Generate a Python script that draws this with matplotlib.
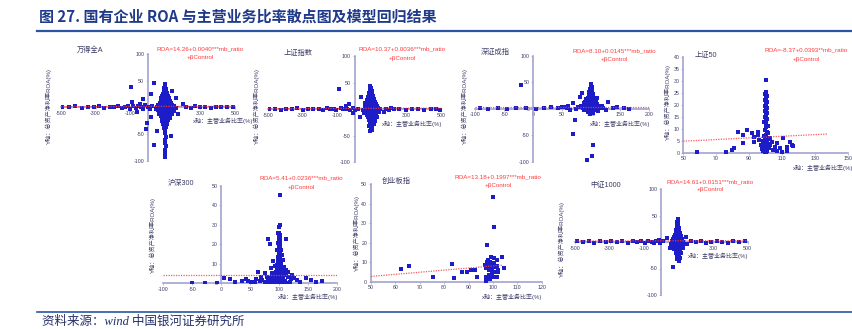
import matplotlib
matplotlib.use("Agg")
import matplotlib.pyplot as plt

plt.rcParams['font.family'] = ['Liberation Sans', 'Noto Sans CJK SC', 'DejaVu Sans']
plt.rcParams['axes.unicode_minus'] = False

# ---------------- data ----------------
TITLE = "图 27. 国有企业 ROA 与主营业务比率散点图及模型回归结果"
SOURCE = "资料来源：wind 中国银河证券研究所"
Y_LABEL = "Y轴：总资产净利率ROA(%)"
X_LABEL = "x轴：主营业务比率(%)"

panel_names = ["万得全A", "上证指数", "深证成指", "上证50", "沪深300", "创业板指", "中证1000"]
equations = [
    "ROA=14.26+0.0040***mb_ratio",
    "ROA=10.37+0.0036***mb_ratio",
    "ROA=8.10+0.0145***mb_ratio",
    "ROA=-8.37+0.0393**mb_ratio",
    "ROA=5.41+0.0236***mb_ratio",
    "ROA=13.18+0.1997***mb_ratio",
    "ROA=14.61+0.0151***mb_ratio",
]
control_text = "+βControl"

# fitted trend lines drawn on each panel: (x0, y0, x1, y1)
trend_lines = [
    (-500, 1.5, 500, 2.5),
    (-500, 1.0, 500, 2.0),
    (-100, 4.0, 200, 4.0),
    (50, 4.8, 138, 7.8),
    (-100, 4.2, 200, 4.2),
    (50, 2.7, 104, 8.5),
    (-500, 2.0, 500, 2.5),
]

wind_a = [
    (98,44),(101,40),(95,37),(104,35),(99,33),(92,30),(106,31),(97,28),(88,26),(110,27),(101,24),(93,22),
    (115,22),(84,21),(106,19),(98,18),(120,17),(78,17),(90,16),(112,14),(102,13),(73,13),(127,12),(85,11),
    (96,10),(108,9),(67,9),(118,8),(133,8),(80,7),(92,6),(104,5),(60,5),(140,5),(125,4),(72,3),(114,3),
    (86,2),(98,1),(150,2),(52,1),(132,0),(66,-1),(108,-1),(160,-1),(78,-2),(94,-3),(120,-3),(45,-2),
    (142,-4),(58,-5),(102,-5),(86,-6),(128,-6),(70,-8),(112,-8),(150,-7),(96,-9),(80,-11),(122,-11),
    (64,-12),(104,-13),(136,-13),(90,-15),(74,-16),(116,-16),(100,-18),(84,-20),(126,-19),(108,-21),
    (92,-23),(118,-24),(80,-25),(100,-27),(110,-30),(88,-31),(98,-34),(106,-37),(94,-39),(101,-42),
    (96,20),(104,16),(90,12),(100,8),(110,12),(86,8),(94,4),(106,2),(100,-2),(90,-1),(112,0),(80,0),
    (120,2),(96,-6),(108,-4),(84,-4),(98,-12),(104,-8),(92,-10),(100,14),(96,24),(102,30),(98,38),
    (94,-20),(104,-24),(98,-30),(76,5),(124,-2),(70,-3),(130,3),(88,18),(114,8),(100,3),(102,-15),
    (95,-25),(110,-12),(82,10),(118,-14),(100,27),(92,14),(108,6),(88,-8),(112,-18),(97,-17),
    (99,-48),(102,-55),(97,-60),(100,-66),(103,-72),(98,-79),(100,-86),(99,-93),
    (-99,38),(36,46),(36,-70),(130,-54),(-13,-40),(-90,11),(-46,7),(17,-18),(-4,-29),(50,-44),(160,18),
    (175,-12),(200,6),(-30,15),(-60,-8),(20,25),(140,30),
    (-490,1),(-450,0),(-420,2),(-380,-1),(-345,1),(-310,0),(-280,2),(-250,-1),(-220,1),(-195,0),
    (-170,2),(-150,-1),(-130,1),(-115,3),(-100,-2),(-85,2),(-70,-1),(-55,3),(-40,0),(-25,-3),(-15,4),
    (0,1),(10,-2),(25,3),(220,1),(245,-1),(270,2),(300,0),(330,1),(360,-1),(390,1),(420,0),(455,1),(490,0),
]

sse = [
    (92,43),(96,39),(89,36),(99,34),(86,31),(95,30),(102,28),(83,26),(91,25),(106,24),(79,22),(97,21),
    (88,19),(111,19),(75,17),(101,16),(84,15),(118,14),(93,13),(70,12),(108,11),(80,10),(124,10),(96,9),
    (64,8),(88,7),(115,7),(130,6),(75,5),(102,5),(58,4),(92,3),(138,3),(120,2),(68,1),(82,0),(108,0),
    (146,0),(50,-1),(96,-1),(126,-2),(62,-3),(88,-4),(114,-4),(74,-6),(140,-6),(100,-7),(56,-8),(86,-9),
    (122,-9),(70,-11),(108,-12),(94,-13),(130,-14),(80,-15),(114,-17),(98,-19),(86,-21),(120,-22),
    (104,-24),(90,-26),(110,-28),(96,-30),(84,-32),(102,-34),(94,-36),(99,-39),(92,-42),
    (94,18),(100,12),(86,10),(104,8),(92,6),(110,4),(80,4),(96,2),(116,0),(90,-2),(104,-2),(76,0),
    (98,-10),(84,-12),(110,-8),(92,-16),(104,-16),(96,-24),(88,-28),(100,-31),(90,22),(98,26),(94,33),
    (82,12),(112,14),(72,-5),(128,4),(106,-20),(96,-3),(86,2),(100,20),(108,-5),(94,-7),(118,-3),
    (-90,37),(39,23),(-33,9),(-50,6),(-10,-8),(30,-15),(170,-5),(210,3),(60,12),
    (-495,0),(-460,1),(-425,-1),(-395,1),(-360,0),(-330,2),(-300,-1),(-270,1),(-240,0),(-205,1),
    (-180,-1),(-160,2),(-140,0),(-120,1),(-105,-2),(-80,2),(-65,0),(-45,1),(-25,-1),(-10,2),(5,-1),
    (20,1),(180,1),(200,-2),(230,0),(260,1),(295,-1),(330,0),(365,1),(400,-1),(440,0),(470,1),(495,-1),
]

szse = [
    (100,47),(99,44),(101,41),(98,38),(100,35),(102,33),(97,31),(100,29),(103,27),(96,25),(99,24),
    (101,22),(95,21),(104,20),(98,19),(92,18),(100,17),(106,16),(96,15),(102,14),(90,13),(99,12),
    (108,12),(94,11),(101,10),(88,10),(104,9),(97,8),(110,8),(92,7),(100,7),(86,6),(106,6),(95,5),
    (112,5),(82,5),(102,4),(90,4),(98,3),(108,3),(78,3),(115,2),(94,2),(104,1),(86,1),(100,0),(120,1),
    (74,0),(110,-1),(92,-1),(97,-2),(105,-3),(88,-3),(100,-5),(112,-4),(95,-7),(103,-8),(98,-10),
    (100,20),(98,14),(102,10),(96,6),(100,3),(93,1),(106,2),(99,-1),(102,18),(97,11),(103,6),(100,12),
    (99,27),(101,33),(98,9),(94,4),(105,11),(91,9),(99,5),(102,-1),(96,0),(84,3),(113,1),
    (-21,45),(69,-48),(103,-69),(102,-89),(93,-97),(73,-22),(81,22),(110,20),(118,5),(137,1),(156,2),
    (165,0),(125,-2),(145,4),(68,10),(60,6),(55,3),(63,-3),(130,12),(85,30),
    (-92,1),(-78,0),(-60,2),(-45,0),(-30,1),(-12,2),(5,0),(18,1),(30,3),(42,1),(50,4),(58,2),
]

sse50 = [
    (58.5,0.3),(75.8,0.1),(79.4,1.1),(80.8,1.8),(83.5,8.5),(86.5,7.4),(86.5,3.9),(88.5,9.4),(91.6,8.1),
    (93.2,6.7),(93.2,4.3),(95.2,8.5),(95.6,7.4),(96.0,5.2),(97.3,3.2),(97.8,1.5),(98.5,0.6),
    (100.2,30.3),(100.6,25.4),(99.8,24.5),(101.1,23.8),(100.3,22.6),(99.6,21.9),(100.9,21.1),
    (100.1,20.2),(99.4,19.3),(100.7,18.8),(100.2,17.9),(99.5,17.2),(101.2,16.5),(100.4,15.8),
    (99.8,14.9),(100.9,14.2),(100.1,13.3),(99.3,12.6),(100.6,11.9),(101.3,11.2),(100.0,10.5),
    (99.6,9.6),(100.8,8.8),(101.5,8.1),(100.2,7.5),(99.1,6.8),(100.5,6.2),(101.8,5.6),(99.8,5.1),
    (100.9,4.5),(99.2,3.9),(100.3,3.3),(101.6,2.8),(99.7,2.2),(100.6,1.6),(98.9,1.1),(101.2,0.7),
    (100.0,0.3),(99.4,0.1),(102.3,1.9),(101.9,3.6),(98.7,2.6),(98.4,4.8),(102.6,6.3),
    (102.7,3.2),(103.8,4.6),(106.8,3.9),(108.8,1.8),(109.8,0.4),(107.2,0.9),(110.8,6.0),(112.9,2.5),
    (114.9,4.6),(115.9,3.1),(117.0,2.9),(112.9,0.7),(104.5,1.2),(105.5,2.2),
]

csi300 = [
    (101,45),(100.5,30),(99.5,29),(100.2,26),(101.2,25),(99.8,24),(100.6,23),(99.2,22),(101,21),
    (100.1,20),(99.5,19),(100.8,18),(98.9,17),(101.4,16.5),(100.2,16),(99.7,15),(101.8,14),(98.6,13.5),
    (100.4,13),(102.5,12),(97.8,11.5),(100.9,11),(99.3,10.5),(103.2,10),(96.5,9.5),(101.5,9),(98.7,8.5),
    (104,8),(95.2,7.5),(100.3,7),(106,6.5),(93.5,6),(99.1,5.8),(102.6,5.5),(108,5),(91,4.8),(97.4,4.5),
    (104.8,4.2),(111,4),(88,3.8),(100.8,3.5),(95.6,3.2),(115,3),(85,2.8),(106.5,2.6),(92,2.4),(98.8,2.2),
    (120,2),(80,1.8),(103.3,1.6),(110,1.4),(89,1.2),(96.4,1),(118,0.9),(76,0.8),(101.2,0.6),(86,0.5),
    (108.4,0.4),(93,0.3),(99.5,0.2),(114,0.2),(82,0.1),(70,1.5),(74.7,5.1),(69,3.4),(63.2,6),(57.5,0.85),
    (46,1.2),(43.1,2.4),(23,0.5),(14.4,2),(4,2.6),(-7.5,0.3),(-28.4,0.3),(-51,0.2),(146.5,2.6),(155,1.7),
    (163.8,0.85),(174,1.2),(80.7,22.5),(83.6,20.1),(112.4,22.5),(89.4,11.6),(106.6,11.9),(93,9),
    (108,8.5),(112,7),(85,8),(88,5.5),(115,6),(122,4),(125,2.5),(130,1.5),(78,3),(66,1),(60,2.2),
    (52,0.6),(35,1.4),(135,0.7),(96,17),(104,14.5),(97,26),(98.5,20.5),(101.8,19.5),(99.1,15.5),
    (102.2,17),(98.2,12.5),(101.9,10.5),(97,7),(103.5,6.8),(95,4),(105.5,3.8),(94,1.8),(107,1.2),
]

chinext = [
    (62.3,6.7),(65.7,7.8),(75.6,2.6),(83.1,9.0),(84.2,2.0),(87.5,5.1),(89.2,4.8),(91.0,6.0),(92.7,6.0),
    (93.6,2.6),(97.4,18.8),(96.8,8.5),(97.0,2.6),(97.2,0.3),(98.1,11.1),(99.1,12.5),(99.5,7.7),
    (99.6,6.0),(99.8,4.3),(99.9,2.6),(100.2,8.9),(100.4,9.6),(100.5,27.8),(100.2,43.5),(100.6,11.9),
    (101.0,7.3),(101.3,5.1),(101.5,11.1),(101.8,8.0),(101.9,6.0),(98.2,6.0),(98.5,8.5),(98.9,10.2),
    (98.2,3.4),(98.7,1.2),(99.1,2.2),(98.0,7.7),(97.3,6.8),(97.6,10.2),(103.6,12.8),(104.6,7.2),
    (101.5,2.6),(102.2,5.1),(98.1,1.7),(97.0,6.8),
]

csi1000 = [
    (95,43),(92,38),(98,35),(90,32),(96,30),(88,27),(100,26),(93,24),(85,22),(104,21),(91,19),(82,18),
    (108,17),(96,16),(78,14),(100,13),(88,12),(112,11),(74,10),(94,9),(116,8),(84,7),(104,6),(70,5),
    (120,5),(92,4),(78,3),(110,2),(64,1),(98,1),(126,0),(86,-1),(72,-2),(114,-2),(58,-3),(100,-4),
    (130,-4),(80,-6),(92,-7),(118,-7),(68,-9),(106,-9),(86,-11),(124,-12),(96,-13),(76,-14),(110,-15),
    (90,-17),(102,-19),(82,-20),(116,-21),(94,-23),(104,-25),(88,-27),(98,-29),(108,-31),(92,-33),
    (100,-36),(94,20),(98,10),(88,6),(102,2),(92,-2),(80,0),(108,-4),(96,-8),(84,-5),(100,-14),
    (92,-22),(100,-26),(94,28),(90,14),(106,12),(96,5),(86,3),(112,-1),(76,6),(120,-9),(98,-18),
    (90,-10),(102,16),(96,-31),(84,12),(110,6),(100,-1),(94,0),
    (65,-48),(-15,3),(-40,-2),(30,8),(150,-3),(170,2),(50,-12),(140,10),
    (-490,1),(-455,0),(-420,1),(-390,-1),(-355,1),(-320,0),(-290,2),(-255,0),(-225,1),(-195,-1),
    (-165,1),(-140,0),(-115,2),(-95,-1),(-75,1),(-55,0),(-30,1),(-10,-1),(10,2),(200,0),(230,1),
    (260,-1),(290,0),(320,1),(350,0),(385,-1),(415,1),(450,0),(485,1),
]

panel_points = [wind_a, sse, szse, sse50, csi300, chinext, csi1000]

# axis ranges and tick values
x_ranges = [(-500, 500), (-500, 500), (-100, 200), (50, 150), (-100, 200), (50, 120), (-500, 500)]
y_ranges = [(-100, 100), (-100, 100), (-100, 100), (0, 40), (0, 50), (0, 50), (-100, 100)]
x_ticks = [
    [-500, -300, -100, 100, 300, 500],
    [-500, -300, -100, 100, 300, 500],
    [-100, -50, 0, 50, 100, 150, 200],
    [50, 70, 90, 110, 130, 150],
    [-100, -50, 0, 50, 100, 150, 200],
    [50, 60, 70, 80, 90, 100, 110, 120],
    [-500, -300, -100, 100, 300, 500],
]
y_ticks = [
    [-100, -50, 50, 100],
    [-100, -50, 50, 100],
    [-100, -50, 0, 50, 100],
    [0, 5, 10, 15, 20, 25, 30, 35, 40],
    [0, 10, 20, 30, 40, 50],
    [0, 10, 20, 30, 40, 50],
    [-100, -50, 50, 100],
]

# ---------------- layout (pixel units) ----------------
W, H = 852, 329
# plot-area boxes: left, top, right, bottom
boxes = [
    (60.7, 54.0, 235.0, 161.0),
    (268.0, 56.0, 441.0, 162.3),
    (475.3, 55.7, 649.0, 161.7),
    (683.3, 56.7, 847.7, 152.7),
    (163.3, 185.7, 337.3, 283.3),
    (371.0, 184.0, 541.7, 281.7),
    (575.0, 189.0, 747.7, 295.0),
]
cross_axes = [True, True, True, False, "y", False, True]
name_pos = [(90, 50), (298, 53), (495, 52), (706, 55), (181, 183), (396, 181), (606, 185)]
eq_pos = [(200, 48.5, 57.7), (402, 48.5, 58.3), (614, 50.5, 59.7), (806, 50, 59),
          (301, 178, 187.3), (498, 176.7, 185.7), (710, 181.7, 190)]
xlab_pos = [(192.5, 121), (382, 124), (590, 124), (793, 167.7), (278, 297.3), (482, 296.7), (688, 256)]
ylab_pos = [(49, 106), (256.7, 106), (464.3, 106), (668, 102), (152.3, 235), (357, 233), (561.7, 239)]

AXIS_COLOR = "#a3a3d1"
TEXT_COLOR = "#3c3c66"
DOT_COLOR = "#1c1cc8"
RED = "#ff3b3b"
NAVY = "#1f3a8a"


def fx(px):
    return px / W


def fy(py):
    return 1 - py / H


fig = plt.figure(figsize=(W / 100, H / 100), dpi=100)
fig.patch.set_facecolor("white")

# header and footer
fig.text(fx(39), fy(17), TITLE, fontsize=10.8, fontweight="bold", color=NAVY,
         family=["Noto Sans CJK SC", "DejaVu Sans"], va="center", ha="left")
fig.add_artist(plt.Line2D([fx(37), fx(852)], [fy(31), fy(31)], color="#2b55a3", lw=1.6))
fig.add_artist(plt.Line2D([fx(37), fx(852)], [fy(311.5), fy(311.5)], color="#2b55a3", lw=1.2))
fig.text(fx(42), fy(322), SOURCE, fontsize=9, style="italic", color="#26306a",
         family=["Liberation Serif", "Noto Sans CJK SC"], va="center", ha="left")

for i in range(7):
    l, t, r, b = boxes[i]
    ax = fig.add_axes([fx(l), fy(b), (r - l) / W, (b - t) / H])
    ax.patch.set_alpha(0)
    ax.set_xlim(*x_ranges[i])
    ax.set_ylim(*y_ranges[i])

    xs = [p[0] for p in panel_points[i]]
    ys = [p[1] for p in panel_points[i]]
    ax.scatter(xs, ys, s=5.5, marker="s", color=DOT_COLOR, linewidths=0, zorder=3)

    x0, y0, x1, y1 = trend_lines[i]
    ax.plot([x0, x1], [y0, y1], color=RED, lw=0.9, linestyle=(0, (1, 1)), alpha=0.85, zorder=4)

    for side in ("top", "right"):
        ax.spines[side].set_visible(False)
    for side in ("left", "bottom"):
        ax.spines[side].set_color(AXIS_COLOR)
        ax.spines[side].set_linewidth(1.2)
        ax.spines[side].set_zorder(2)
    mode = cross_axes[i]
    if mode is True:
        ax.spines["left"].set_position(("data", 0))
        ax.spines["bottom"].set_position(("data", 0))
    elif mode == "y":
        ax.spines["left"].set_position(("data", 0))

    ax.set_xticks(x_ticks[i])
    ax.set_yticks(y_ticks[i])
    ax.tick_params(labelsize=3.8, labelcolor=TEXT_COLOR, color=AXIS_COLOR,
                   length=1.5, width=0.5, pad=1.2)

    nx, ny = name_pos[i]
    fig.text(fx(nx), fy(ny), panel_names[i], fontsize=5.2, color=TEXT_COLOR,
             ha="center", va="center")
    ex, ey1, ey2 = eq_pos[i]
    fig.text(fx(ex), fy(ey1), equations[i], fontsize=4.5, color=RED, ha="center", va="center")
    fig.text(fx(ex), fy(ey2), control_text, fontsize=4.5, color=RED, ha="center", va="center")
    lx, ly = xlab_pos[i]
    fig.text(fx(lx), fy(ly), X_LABEL, fontsize=4.3, color=TEXT_COLOR, ha="left", va="center")
    yx, yy = ylab_pos[i]
    fig.text(fx(yx), fy(yy), Y_LABEL, fontsize=4.4, color=TEXT_COLOR, ha="center",
             va="center", rotation=90)

fig.savefig("out.png", dpi=100, facecolor="white")
